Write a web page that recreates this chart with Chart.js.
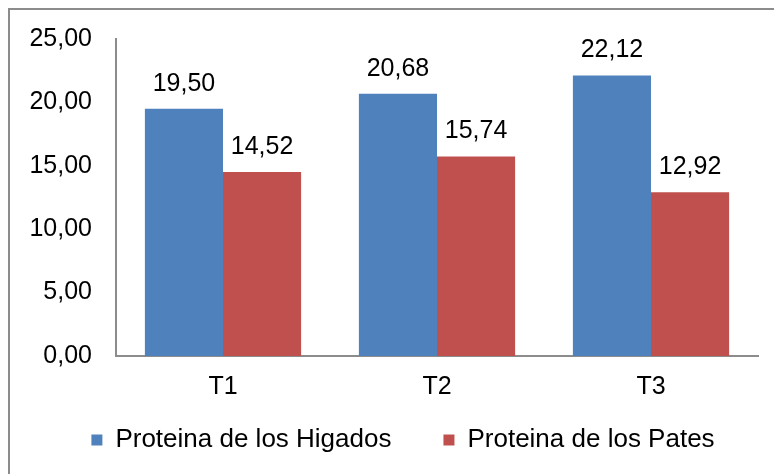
<!DOCTYPE html>
<html>
<head>
<meta charset="utf-8">
<script src="https://cdn.jsdelivr.net/npm/chart.js@4"></script>
<style>
  html, body { margin: 0; padding: 0; background: #fff; }
  #wrap { position: relative; width: 774px; height: 474px; overflow: hidden; }
  #frame { position: absolute; left: 8px; top: 8px; width: 800px; height: 500px; border: 2px solid #8c8c8c; box-sizing: border-box; }
  #chart { position: absolute; left: 0; top: 0; }
</style>
</head>
<body>
<div id="wrap">
  <div id="frame"></div>
  <canvas id="chart" width="774" height="474"></canvas>
</div>
<script>
const categories = ['T1', 'T2', 'T3'];
const higados = [19.50, 20.68, 22.12];
const pates = [14.52, 15.74, 12.92];
const yTicks = [0, 5, 10, 15, 20, 25];

const FONT = '"Liberation Sans", Arial, sans-serif';

function fmt(v) {
    return v.toFixed(2).replace('.', ',');
}

const valueLabels = {
    id: 'valueLabels',
    afterDatasetsDraw(chart) {
        const ctx = chart.ctx;
        ctx.save();
        ctx.font = '25px ' + FONT;
        ctx.fillStyle = '#000';
        ctx.textAlign = 'center';
        ctx.textBaseline = 'middle';
        chart.data.datasets.forEach(function (ds, i) {
            chart.getDatasetMeta(i).data.forEach(function (bar, j) {
                ctx.fillText(fmt(ds.data[j]), bar.x, bar.y - 25);
            });
        });
        ctx.restore();
    }
};

// move the legend to where the reference has it (legend clips to its box)
const legendPlace = {
    id: 'legendPlace',
    afterLayout(chart) {
        const lg = chart.legend;
        lg.left += 24;
        lg.right += 24;
        lg.top = 375;
        lg.bottom = 474;
        lg.height = lg.bottom - lg.top;
    }
};

const ctx = document.getElementById('chart').getContext('2d');
const chart = new Chart(ctx, {
    type: 'bar',
    data: {
        labels: categories,
        datasets: [
            {
                label: 'Proteina de los Higados',
                data: higados,
                backgroundColor: '#4f81bd',
                categoryPercentage: 0.73,
                barPercentage: 1.0
            },
            {
                label: 'Proteina de los Pates',
                data: pates,
                backgroundColor: '#c0504d',
                categoryPercentage: 0.73,
                barPercentage: 1.0
            }
        ]
    },
    options: {
        responsive: false,
        animation: false,
        layout: {
            padding: { left: 0, right: 16, top: 24, bottom: 34 }
        },
        plugins: {
            legend: {
                position: 'bottom',
                maxHeight: 40,
                labels: {
                    boxWidth: 11,
                    boxHeight: 11,
                    padding: 52,
                    color: '#000',
                    font: { family: FONT, size: 26 }
                }
            },
            tooltip: { enabled: false }
        },
        scales: {
            x: {
                afterFit(scale) { scale.height = 44; },
                grid: { display: false, drawTicks: false },
                border: { color: '#8c8c8c', width: 2 },
                ticks: {
                    color: '#000',
                    padding: 16,
                    font: { family: FONT, size: 25 }
                }
            },
            y: {
                min: 0,
                max: 25,
                afterFit(scale) { scale.width = 116; },
                afterBuildTicks(scale) { scale.ticks = yTicks.map(v => ({ value: v })); },
                grid: { display: false, drawTicks: false },
                border: { color: '#8c8c8c', width: 2 },
                ticks: {
                    color: '#000',
                    padding: 24,
                    callback: v => fmt(v),
                    font: { family: FONT, size: 25 }
                }
            }
        }
    },
    plugins: [valueLabels, legendPlace]
});
</script>
</body>
</html>
